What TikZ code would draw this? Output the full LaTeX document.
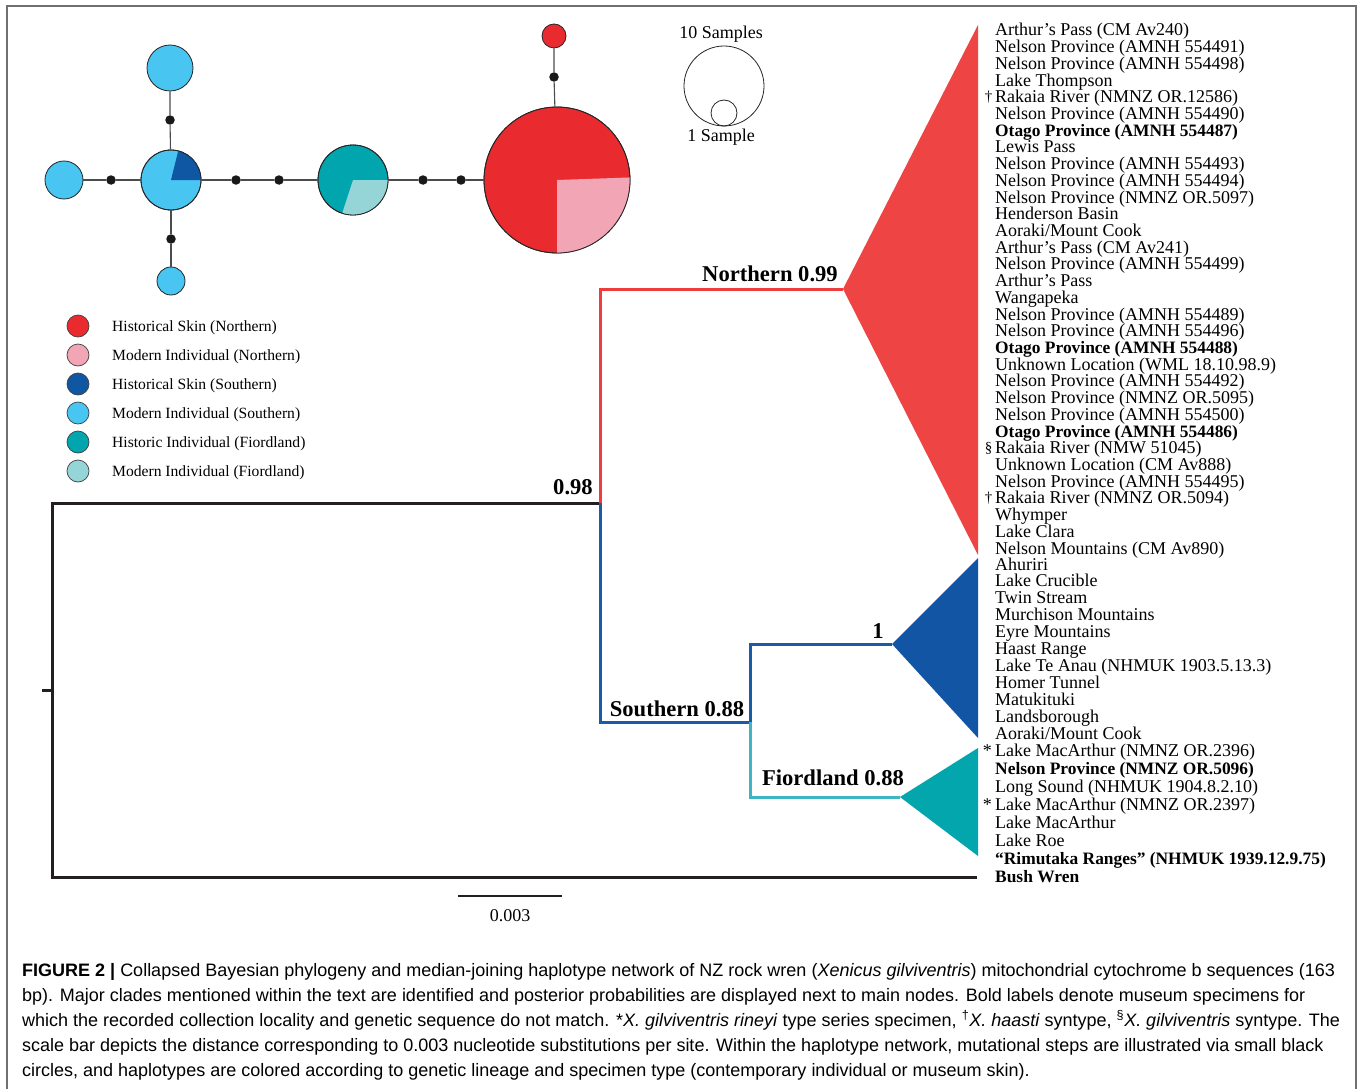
\documentclass[tikz,border=0pt]{standalone}
\usepackage{fontspec}
\setmainfont{Liberation Serif}
\newfontfamily\capfont[FakeStretch=1.0]{Liberation Sans}
\definecolor{netred}{HTML}{E92B30}
\definecolor{netpink}{HTML}{F2A5B5}
\definecolor{netdblue}{HTML}{0F56A3}
\definecolor{netlblue}{HTML}{48C5F1}
\definecolor{netteal}{HTML}{00A5AE}
\definecolor{netlteal}{HTML}{95D5D8}
\definecolor{trired}{HTML}{EE4444}
\definecolor{brred}{HTML}{EE3D3D}
\definecolor{brblue}{HTML}{1A5AA8}
\definecolor{brteal}{HTML}{3EB5C2}
\definecolor{triblue}{HTML}{1255A5}
\definecolor{tritea}{HTML}{04A6AE}
\definecolor{treeblack}{HTML}{231F20}
\definecolor{framegray}{HTML}{707070}
\newcommand\bl{\bfseries\fontsize{17.4}{18}\selectfont}
\tikzset{
  hap/.style={circle,draw=black!85,line width=0.8pt,inner sep=0pt},
  mdot/.style={circle,fill=black!90,inner sep=0pt,minimum size=9.5},
  netline/.style={draw=black!70,line width=1.1pt},
  legdot/.style={circle,draw=black!75,line width=0.7pt,inner sep=0pt,minimum size=22},
  legtxt/.style={anchor=base west,inner sep=0pt,font=\fontsize{15.6}{16}\selectfont},
  lbl/.style={anchor=base west,inner sep=0pt,font=\fontsize{18}{18}\selectfont},
  pre/.style={anchor=base east,inner sep=0pt,font=\fontsize{15}{15}\selectfont},
  clade/.style={anchor=base,inner sep=0pt,font=\bfseries\fontsize{22.6}{23}\selectfont},
  branch/.style={line width=3pt},
  captxt/.style={anchor=base west,inner sep=0pt,font=\capfont\fontsize{18}{18}\selectfont},
}
\begin{document}
\begin{tikzpicture}[x=1pt,y=-1pt]
\useasboundingbox (0,0) rectangle (1360,1089);
\fill[white] (0,0) rectangle (1360,1089);
\draw[framegray,line width=1.5pt] (7,1095) -- (7,6) -- (1356,6) -- (1356,1095);

% ---------------- haplotype network ----------------
\node[hap,fill=netred,minimum size=146] (hbig) at (557,180) {};
\node[hap,fill=netred,minimum size=24] (hred) at (554,36) {};
\node[hap,fill=netteal,minimum size=70] (htea) at (353,180) {};
\node[hap,fill=netlblue,minimum size=60] (hcen) at (171,180) {};
\node[hap,fill=netlblue,minimum size=38] (hleft) at (64,180) {};
\node[hap,fill=netlblue,minimum size=46] (htop) at (170,68) {};
\node[hap,fill=netlblue,minimum size=28] (hbot) at (171,281) {};
% pie sectors
\fill[netpink] (hbig.center) -- ++(-2:73) arc[start angle=-2,end angle=90,radius=73] -- cycle;
\draw[black!85,line width=0.8pt] (hbig.center) circle[radius=73];
\fill[netlteal] (htea.center) -- ++(0:35) arc[start angle=0,end angle=108,radius=35] -- cycle;
\draw[black!85,line width=0.8pt] (htea.center) circle[radius=35];
\fill[netdblue] (hcen.center) -- ++(0:30) arc[start angle=0,end angle=-76,radius=30] -- cycle;
\draw[black!85,line width=0.8pt] (hcen.center) circle[radius=30];
% mutational steps
\node[mdot] (d1) at (554,77) {};
\node[mdot] (d2) at (423,180) {};
\node[mdot] (d3) at (461,180) {};
\node[mdot] (d4) at (236,180) {};
\node[mdot] (d5) at (279,180) {};
\node[mdot] (d6) at (111,180) {};
\node[mdot] (d7) at (170,120) {};
\node[mdot] (d8) at (171,239) {};
\draw[netline] (hred) -- (d1) -- (hbig);
\draw[netline] (htea) -- (d2) -- (d3) -- (hbig);
\draw[netline] (hcen) -- (d4) -- (d5) -- (htea);
\draw[netline] (hleft) -- (d6) -- (hcen);
\draw[netline] (htop) -- (d7) -- (hcen);
\draw[netline] (hcen) -- (d8) -- (hbot);

% size legend
\node[circle,draw=black!85,line width=0.8pt,inner sep=0pt,minimum size=80] (s10) at (724,86) {};
\node[circle,draw=black!85,line width=0.8pt,inner sep=0pt,minimum size=26] (s1) at (724,113) {};
\node[anchor=base,inner sep=0pt,font=\fontsize{18}{18}\selectfont] (t10) at (721,39) {10 Samples};
\node[anchor=base,inner sep=0pt,font=\fontsize{18}{18}\selectfont] (t1) at (721,142) {1 Sample};

% colour legend
\node[legdot,fill=netred]   (k1) at (78,326) {};
\node[legdot,fill=netpink]  (k2) at (78,355) {};
\node[legdot,fill=netdblue] (k3) at (78,384) {};
\node[legdot,fill=netlblue] (k4) at (78,413) {};
\node[legdot,fill=netteal]  (k5) at (78,442) {};
\node[legdot,fill=netlteal] (k6) at (78,471) {};
\node[legtxt] (kt1) at (112,331) {Historical Skin (Northern)};
\node[legtxt] (kt2) at (112,360) {Modern Individual (Northern)};
\node[legtxt] (kt3) at (112,389) {Historical Skin (Southern)};
\node[legtxt] (kt4) at (112,418) {Modern Individual (Southern)};
\node[legtxt] (kt5) at (112,447) {Historic Individual (Fiordland)};
\node[legtxt] (kt6) at (112,476) {Modern Individual (Fiordland)};

% ---------------- tree ----------------
\coordinate (rootstub) at (42,690);
\coordinate (root) at (52,690);
\coordinate (rA) at (52,503);
\coordinate (rB) at (52,877);
\coordinate (nA) at (600,503);
\coordinate (nN) at (600,289);
\coordinate (nS) at (600,722);
\coordinate (aN) at (843,289);
\coordinate (nS2) at (750,722);
\coordinate (nSb) at (750,644);
\coordinate (nF) at (750,797);
\coordinate (aB) at (892,644);
\coordinate (aF) at (900,797);
\coordinate (bw) at (975,877);
% triangles
\fill[trired] (aN) -- (978,25) -- (978,555) -- cycle;
\fill[triblue] (aB) -- (978,558) -- (978,738) -- cycle;
\fill[tritea] (aF) -- (978,748) -- (978,856) -- cycle;
% branches
\draw[branch,treeblack] (rootstub) -- (root);
\draw[branch,treeblack,line cap=rect] (nA) -- (rA) -- (rB) -- (bw);
\draw[branch,brred] (nA) -- (nN) -- (aN);
\draw[branch,brblue] (nA) -- (nS) -- (nS2) -- (nSb) -- (aB);
\draw[branch,brteal] (nS2) -- (nF) -- (aF);
% support values
\node[clade] (lN) at (770,281) {Northern 0.99};
\node[clade] (l98) at (573,494) {0.98};
\node[clade] (lS) at (677,716) {Southern 0.88};
\node[clade] (lF) at (833,785) {Fiordland 0.88};
\node[clade] (l1) at (878,638) {1};
% scale bar
\coordinate (sb1) at (458,896);
\coordinate (sb2) at (562,896);
\draw[line width=2.5pt,treeblack] (sb1) -- (sb2);
\node[anchor=base,inner sep=0pt,font=\fontsize{18}{18}\selectfont] (sbl) at (510,921) {0.003};

% tip labels
\foreach \t [count=\i, evaluate=\i as \yy using {36+16.71*(\i-1)}] in {
Arthur’s Pass (CM Av240),
Nelson Province (AMNH 554491),
Nelson Province (AMNH 554498),
Lake Thompson,
Rakaia River (NMNZ OR.12586),
Nelson Province (AMNH 554490),
{\bl Otago Province (AMNH 554487)},
Lewis Pass,
Nelson Province (AMNH 554493),
Nelson Province (AMNH 554494),
Nelson Province (NMNZ OR.5097),
Henderson Basin,
Aoraki/Mount Cook,
Arthur’s Pass (CM Av241),
Nelson Province (AMNH 554499),
Arthur’s Pass,
Wangapeka,
Nelson Province (AMNH 554489),
Nelson Province (AMNH 554496),
{\bl Otago Province (AMNH 554488)},
Unknown Location (WML 18.10.98.9),
Nelson Province (AMNH 554492),
Nelson Province (NMNZ OR.5095),
Nelson Province (AMNH 554500),
{\bl Otago Province (AMNH 554486)},
Rakaia River (NMW 51045),
Unknown Location (CM Av888),
Nelson Province (AMNH 554495),
Rakaia River (NMNZ OR.5094),
Whymper,
Lake Clara,
Nelson Mountains (CM Av890)}
  {\node[lbl] (tn\i) at (995,\yy) {\t};}
\foreach \t [count=\i, evaluate=\i as \yy using {570+16.9*(\i-1)}] in {
Ahuriri,
Lake Crucible,
Twin Stream,
Murchison Mountains,
Eyre Mountains,
Haast Range,
Lake Te Anau (NHMUK 1903.5.13.3),
Homer Tunnel,
Matukituki,
Landsborough,
Aoraki/Mount Cook}
  {\node[lbl] (ts\i) at (995,\yy) {\t};}
\foreach \t [count=\i, evaluate=\i as \yy using {756+18*(\i-1)}] in {
Lake MacArthur (NMNZ OR.2396),
{\bl Nelson Province (NMNZ OR.5096)},
Long Sound (NHMUK 1904.8.2.10),
Lake MacArthur (NMNZ OR.2397),
Lake MacArthur,
Lake Roe,
{\bl “Rimutaka Ranges” (NHMUK 1939.12.9.75)},
{\bl Bush Wren}}
  {\node[lbl] (tf\i) at (995,\yy) {\t};}
% type markers
\node[pre] (m1) at ([yshift=1pt]tn5.base west) {†\,};
\node[pre] (m2) at ([yshift=1pt]tn26.base west) {§\,};
\node[pre] (m3) at ([yshift=1pt]tn29.base west) {†\,};
\node[pre,font=\fontsize{18}{18}\selectfont] (m4) at (tf1.base west) {*\,};
\node[pre,font=\fontsize{18}{18}\selectfont] (m5) at (tf4.base west) {*\,};

% ---------------- caption ----------------
\node[captxt] (c1) at (22,976) {{\bfseries FIGURE 2 |} Collapsed Bayesian phylogeny and median-joining haplotype network of NZ rock wren (\textit{Xenicus gilviventris}) mitochondrial cytochrome b sequences (163};
\node[captxt] (c2) at (22,1001) {bp). Major clades mentioned within the text are identified and posterior probabilities are displayed next to main nodes. Bold labels denote museum specimens for};
\node[captxt] (c3) at (22,1026) {which the recorded collection locality and genetic sequence do not match. *\textit{X. gilviventris rineyi} type series specimen, \textsuperscript{†}\textit{X. haasti} syntype, \textsuperscript{§}\textit{X. gilviventris} syntype. The};
\node[captxt] (c4) at (22,1051) {scale bar depicts the distance corresponding to 0.003 nucleotide substitutions per site. Within the haplotype network, mutational steps are illustrated via small black};
\node[captxt] (c5) at (22,1076) {circles, and haplotypes are colored according to genetic lineage and specimen type (contemporary individual or museum skin).};
\end{tikzpicture}
\end{document}
